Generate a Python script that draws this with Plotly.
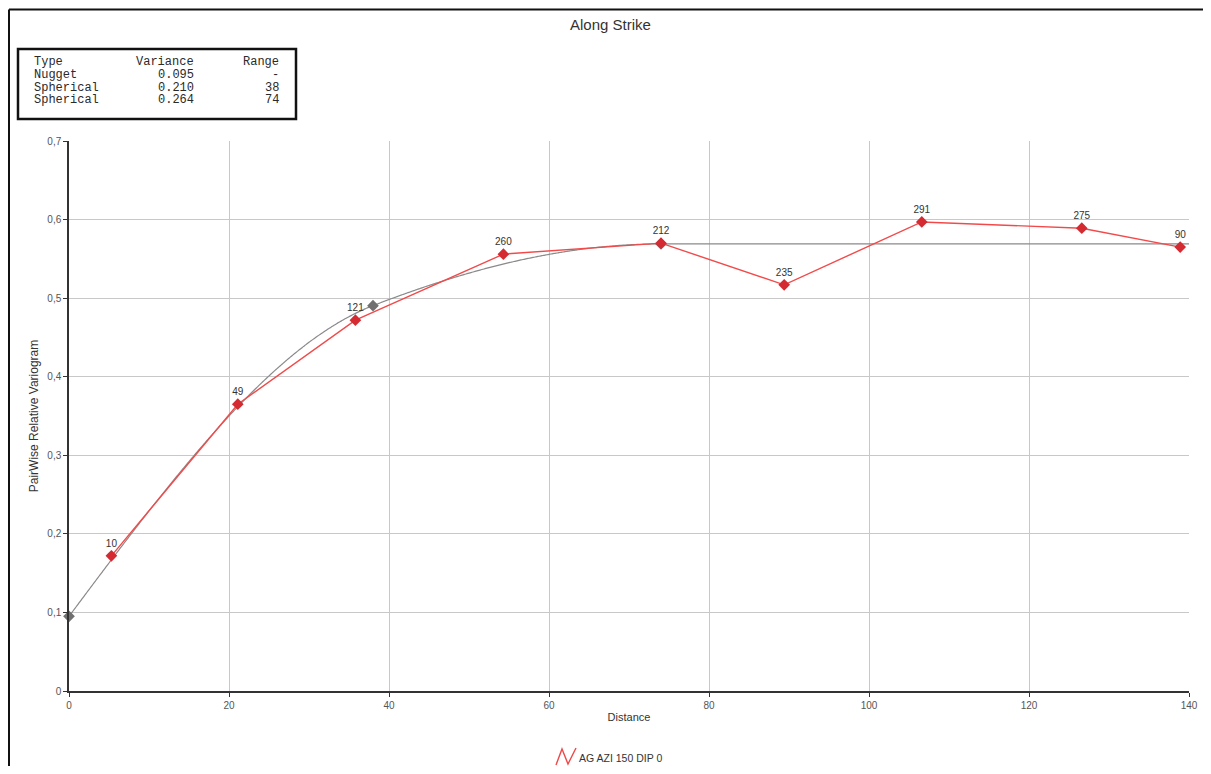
import numpy as np
import plotly.graph_objects as go

# ---- data ----
lag_distance = [5.3, 21.1, 35.8, 54.3, 74.0, 89.4, 106.6, 126.6, 138.9]
variogram = [0.172, 0.365, 0.472, 0.556, 0.570, 0.517, 0.597, 0.589, 0.565]
pair_counts = ["10", "49", "121", "260", "212", "235", "291", "275", "90"]

model_types = ["Nugget", "Spherical", "Spherical"]
model_variances = [0.095, 0.210, 0.264]
model_ranges = [None, 38, 74]

x_ticks = [0, 20, 40, 60, 80, 100, 120, 140]
y_ticks = [0, 0.1, 0.2, 0.3, 0.4, 0.5, 0.6, 0.7]
y_ticklabels = ["0", "0,1", "0,2", "0,3", "0,4", "0,5", "0,6", "0,7"]

# page body has an 8px margin; work in screen pixels and convert
OFF = 8
W, H = 1211 - 2 * OFF, 774 - 2 * OFF
PL, PR, PT, PB = 69, 1189, 141, 691  # plot area in screen px
L, R, T, B = PL - OFF, W - (PR - OFF), PT - OFF, H - (PB - OFF)


def px(xp, yp):
    return (xp - PL) / (PR - PL), (PB - yp) / (PB - PT)


def spherical(h, a):
    h = np.asarray(h, dtype=float)
    r = np.minimum(h / a, 1.0)
    return 1.5 * r - 0.5 * r ** 3


def model(h):
    g = np.full_like(np.asarray(h, dtype=float), model_variances[0])
    for v, a in zip(model_variances[1:], model_ranges[1:]):
        g = g + v * spherical(h, a)
    return g


h_curve = np.linspace(0, 140, 561)
g_curve = model(h_curve)
model_pts_x = [0] + [a for a in model_ranges[1:]]
model_pts_y = list(model(np.array(model_pts_x, dtype=float)))

fig = go.Figure()
fig.add_trace(go.Scatter(x=h_curve, y=g_curve, mode="lines",
                         line=dict(color="#8a8a8a", width=1.2, shape="spline"), showlegend=False,
                         hoverinfo="skip"))
fig.add_trace(go.Scatter(x=model_pts_x, y=model_pts_y, mode="markers",
                         marker=dict(symbol="diamond", size=9, color="#707070"),
                         showlegend=False, cliponaxis=False))
fig.add_trace(go.Scatter(x=lag_distance, y=variogram, mode="lines+markers+text",
                         line=dict(color="#f24a4a", width=1.4),
                         marker=dict(symbol="diamond", size=9, color="#d42a32"),
                         text=pair_counts, textposition="top center",
                         textfont=dict(family="Liberation Sans, Arial", size=10, color="#333333"),
                         name="AG AZI 150 DIP 0", showlegend=False, cliponaxis=False))

axis_font = dict(family="Liberation Sans, Arial", size=10, color="#555555")
fig.update_xaxes(range=[0, 140], tickvals=x_ticks, ticktext=[str(v) for v in x_ticks],
                 automargin=False,
                 showgrid=True, gridcolor="#c8c8c8", gridwidth=1,
                 showline=True, linecolor="#333333", linewidth=1.5,
                 ticks="outside", ticklen=4, tickcolor="#333333",
                 tickfont=axis_font, zeroline=False,
                 title=dict(text="Distance", font=dict(family="Liberation Sans, Arial", size=11, color="#333333"), standoff=4))
fig.update_yaxes(range=[0, 0.7], tickvals=y_ticks, ticktext=y_ticklabels,
                 automargin=False,
                 showgrid=True, gridcolor="#c8c8c8", gridwidth=1,
                 showline=True, linecolor="#333333", linewidth=1.5,
                 ticks="outside", ticklen=4, tickcolor="#333333",
                 tickfont=axis_font, zeroline=False,
                 title=dict(text="PairWise Relative Variogram", font=dict(family="Liberation Sans, Arial", size=12, color="#333333"), standoff=6))

shapes = []
annotations = []

# outer frame (top and left edges visible in the reference)
fx_left, fy_top = px(OFF + 1, 9.5)
fx_right, _ = px(1211, 0)
_, fy_bottom = px(0, 800)
shapes.append(dict(type="line", xref="paper", yref="paper", x0=fx_left, x1=fx_right + 0.05,
                   y0=fy_top, y1=fy_top, line=dict(color="#111111", width=2)))
shapes.append(dict(type="line", xref="paper", yref="paper", x0=fx_left, x1=fx_left,
                   y0=fy_top, y1=fy_bottom, line=dict(color="#111111", width=2)))

# title
tx, ty = px(610, 25)
annotations.append(dict(text="Along Strike", xref="paper", yref="paper", x=tx, y=ty,
                        xanchor="center", yanchor="middle",
                        showarrow=False, font=dict(family="Liberation Sans, Arial", size=15, color="#333333")))

# model table box
bx0, by0 = px(18, 49)
bx1, by1 = px(296, 119)
shapes.append(dict(type="rect", xref="paper", yref="paper", x0=bx0, y0=by1, x1=bx1, y1=by0,
                   line=dict(color="#111111", width=2.5), fillcolor="white"))
mono = dict(family="Liberation Mono, Courier New, monospace", size=12, color="#2a2a2a")
rows = [("Type", "Variance", "Range")]
for t, v, a in zip(model_types, model_variances, model_ranges):
    rows.append((t, f"{v:.3f}", "-" if a is None else str(a)))
row_y = [62, 75, 88, 100]
for (c1, c2, c3), ry in zip(rows, row_y):
    ax, ay = px(32, ry)
    annotations.append(dict(text=c1, xref="paper", yref="paper", x=ax, y=ay, xanchor="left",
                            yanchor="middle", showarrow=False, font=mono))
    ax, ay = px(196, ry)
    annotations.append(dict(text=c2, xref="paper", yref="paper", x=ax, y=ay, xanchor="right",
                            yanchor="middle", showarrow=False, font=mono))
    ax, ay = px(281, ry)
    annotations.append(dict(text=c3, xref="paper", yref="paper", x=ax, y=ay, xanchor="right",
                            yanchor="middle", showarrow=False, font=mono))

# legend: zigzag icon + text
pts = [px(556, 765), px(562, 749), px(568, 764), px(576, 748)]
path = "M " + " L ".join(f"{a},{b}" for a, b in pts)
shapes.append(dict(type="path", xref="paper", yref="paper", path=path,
                   line=dict(color="#f04848", width=1.4)))
lx, ly = px(577, 758)
annotations.append(dict(text="AG AZI 150 DIP 0", xref="paper", yref="paper", x=lx, y=ly,
                        xanchor="left", yanchor="middle", showarrow=False,
                        font=dict(family="Liberation Sans, Arial", size=10.5, color="#333333")))

fig.update_layout(width=W, height=H, margin=dict(l=L, r=R, t=T, b=B, autoexpand=False),
                  paper_bgcolor="white", plot_bgcolor="white",
                  shapes=shapes, annotations=annotations, showlegend=False)

fig.write_html("out.html")
